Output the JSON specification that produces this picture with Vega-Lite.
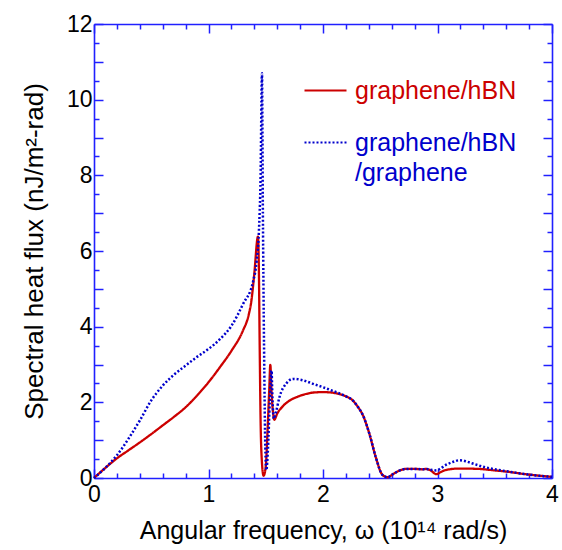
{
  "$schema": "https://vega.github.io/schema/vega-lite/v6.json",
  "width": 458,
  "height": 454,
  "autosize": "none",
  "padding": {"left": 94, "top": 24, "right": 10, "bottom": 72},
  "config": {
    "font": "Liberation Sans",
    "view": {"stroke": null},
    "axis": {
      "grid": false,
      "domainColor": "#2020ff",
      "domainWidth": 1.6,
      "tickColor": "#2020ff",
      "tickWidth": 1.5,
      "labelFont": "Liberation Sans",
      "labelFontSize": 23,
      "labelColor": "#000000",
      "titleFont": "Liberation Sans",
      "titleFontWeight": "normal",
      "titleColor": "#000000",
      "labelOverlap": false,
      "labelFlush": false
    },
    "legend": {"padding": 0}
  },
  "data": {
    "values": [
      {"x": 0, "y": 0, "s": "graphene/hBN"},
      {"x": 0.1, "y": 0.27, "s": "graphene/hBN"},
      {"x": 0.2, "y": 0.52, "s": "graphene/hBN"},
      {"x": 0.3, "y": 0.73, "s": "graphene/hBN"},
      {"x": 0.4, "y": 0.94, "s": "graphene/hBN"},
      {"x": 0.5, "y": 1.16, "s": "graphene/hBN"},
      {"x": 0.6, "y": 1.39, "s": "graphene/hBN"},
      {"x": 0.7, "y": 1.62, "s": "graphene/hBN"},
      {"x": 0.8, "y": 1.87, "s": "graphene/hBN"},
      {"x": 0.9, "y": 2.18, "s": "graphene/hBN"},
      {"x": 1.0, "y": 2.53, "s": "graphene/hBN"},
      {"x": 1.1, "y": 2.93, "s": "graphene/hBN"},
      {"x": 1.2, "y": 3.36, "s": "graphene/hBN"},
      {"x": 1.3, "y": 3.89, "s": "graphene/hBN"},
      {"x": 1.35, "y": 4.3, "s": "graphene/hBN"},
      {"x": 1.374, "y": 4.67, "s": "graphene/hBN"},
      {"x": 1.4, "y": 5.4, "s": "graphene/hBN"},
      {"x": 1.432, "y": 6.38, "s": "graphene/hBN"},
      {"x": 1.44, "y": 5.5, "s": "graphene/hBN"},
      {"x": 1.447, "y": 3.5, "s": "graphene/hBN"},
      {"x": 1.455, "y": 1.5, "s": "graphene/hBN"},
      {"x": 1.465, "y": 0.5, "s": "graphene/hBN"},
      {"x": 1.481, "y": 0.06, "s": "graphene/hBN"},
      {"x": 1.5, "y": 0.3, "s": "graphene/hBN"},
      {"x": 1.515, "y": 1.2, "s": "graphene/hBN"},
      {"x": 1.53, "y": 2.3, "s": "graphene/hBN"},
      {"x": 1.54, "y": 2.99, "s": "graphene/hBN"},
      {"x": 1.55, "y": 2.3, "s": "graphene/hBN"},
      {"x": 1.565, "y": 1.7, "s": "graphene/hBN"},
      {"x": 1.575, "y": 1.54, "s": "graphene/hBN"},
      {"x": 1.6, "y": 1.7, "s": "graphene/hBN"},
      {"x": 1.65, "y": 1.9, "s": "graphene/hBN"},
      {"x": 1.71, "y": 2.05, "s": "graphene/hBN"},
      {"x": 1.78, "y": 2.15, "s": "graphene/hBN"},
      {"x": 1.85, "y": 2.22, "s": "graphene/hBN"},
      {"x": 1.92, "y": 2.26, "s": "graphene/hBN"},
      {"x": 2.0, "y": 2.27, "s": "graphene/hBN"},
      {"x": 2.07, "y": 2.26, "s": "graphene/hBN"},
      {"x": 2.14, "y": 2.22, "s": "graphene/hBN"},
      {"x": 2.2, "y": 2.16, "s": "graphene/hBN"},
      {"x": 2.26, "y": 2.05, "s": "graphene/hBN"},
      {"x": 2.3, "y": 1.9, "s": "graphene/hBN"},
      {"x": 2.35, "y": 1.65, "s": "graphene/hBN"},
      {"x": 2.405, "y": 1.17, "s": "graphene/hBN"},
      {"x": 2.46, "y": 0.56, "s": "graphene/hBN"},
      {"x": 2.52, "y": 0.08, "s": "graphene/hBN"},
      {"x": 2.565, "y": 0.02, "s": "graphene/hBN"},
      {"x": 2.61, "y": 0.1, "s": "graphene/hBN"},
      {"x": 2.65, "y": 0.17, "s": "graphene/hBN"},
      {"x": 2.725, "y": 0.24, "s": "graphene/hBN"},
      {"x": 2.8, "y": 0.24, "s": "graphene/hBN"},
      {"x": 2.87, "y": 0.23, "s": "graphene/hBN"},
      {"x": 2.9, "y": 0.24, "s": "graphene/hBN"},
      {"x": 2.94, "y": 0.2, "s": "graphene/hBN"},
      {"x": 2.99, "y": 0.1, "s": "graphene/hBN"},
      {"x": 3.03, "y": 0.16, "s": "graphene/hBN"},
      {"x": 3.07, "y": 0.21, "s": "graphene/hBN"},
      {"x": 3.19, "y": 0.25, "s": "graphene/hBN"},
      {"x": 3.36, "y": 0.24, "s": "graphene/hBN"},
      {"x": 3.5, "y": 0.2, "s": "graphene/hBN"},
      {"x": 3.6, "y": 0.17, "s": "graphene/hBN"},
      {"x": 3.77, "y": 0.1, "s": "graphene/hBN"},
      {"x": 4.0, "y": 0.03, "s": "graphene/hBN"},

      {"x": 0, "y": 0, "s": "graphene/hBN/graphene"},
      {"x": 0.1, "y": 0.27, "s": "graphene/hBN/graphene"},
      {"x": 0.2, "y": 0.6, "s": "graphene/hBN/graphene"},
      {"x": 0.31, "y": 1.08, "s": "graphene/hBN/graphene"},
      {"x": 0.4, "y": 1.52, "s": "graphene/hBN/graphene"},
      {"x": 0.5, "y": 2.05, "s": "graphene/hBN/graphene"},
      {"x": 0.6, "y": 2.44, "s": "graphene/hBN/graphene"},
      {"x": 0.706, "y": 2.75, "s": "graphene/hBN/graphene"},
      {"x": 0.8, "y": 2.97, "s": "graphene/hBN/graphene"},
      {"x": 0.895, "y": 3.19, "s": "graphene/hBN/graphene"},
      {"x": 1.0, "y": 3.41, "s": "graphene/hBN/graphene"},
      {"x": 1.1, "y": 3.67, "s": "graphene/hBN/graphene"},
      {"x": 1.2, "y": 4.02, "s": "graphene/hBN/graphene"},
      {"x": 1.3, "y": 4.59, "s": "graphene/hBN/graphene"},
      {"x": 1.39, "y": 5.2, "s": "graphene/hBN/graphene"},
      {"x": 1.42, "y": 5.72, "s": "graphene/hBN/graphene"},
      {"x": 1.44, "y": 6.5, "s": "graphene/hBN/graphene"},
      {"x": 1.455, "y": 8.0, "s": "graphene/hBN/graphene"},
      {"x": 1.467, "y": 10.7, "s": "graphene/hBN/graphene"},
      {"x": 1.475, "y": 7.0, "s": "graphene/hBN/graphene"},
      {"x": 1.485, "y": 3.5, "s": "graphene/hBN/graphene"},
      {"x": 1.495, "y": 1.0, "s": "graphene/hBN/graphene"},
      {"x": 1.505, "y": 0.21, "s": "graphene/hBN/graphene"},
      {"x": 1.52, "y": 0.8, "s": "graphene/hBN/graphene"},
      {"x": 1.535, "y": 2.0, "s": "graphene/hBN/graphene"},
      {"x": 1.55, "y": 2.84, "s": "graphene/hBN/graphene"},
      {"x": 1.56, "y": 2.0, "s": "graphene/hBN/graphene"},
      {"x": 1.57, "y": 1.57, "s": "graphene/hBN/graphene"},
      {"x": 1.59, "y": 1.75, "s": "graphene/hBN/graphene"},
      {"x": 1.62, "y": 2.14, "s": "graphene/hBN/graphene"},
      {"x": 1.68, "y": 2.5, "s": "graphene/hBN/graphene"},
      {"x": 1.74, "y": 2.62, "s": "graphene/hBN/graphene"},
      {"x": 1.8, "y": 2.6, "s": "graphene/hBN/graphene"},
      {"x": 1.85, "y": 2.56, "s": "graphene/hBN/graphene"},
      {"x": 1.92, "y": 2.48, "s": "graphene/hBN/graphene"},
      {"x": 2.0, "y": 2.4, "s": "graphene/hBN/graphene"},
      {"x": 2.07, "y": 2.32, "s": "graphene/hBN/graphene"},
      {"x": 2.14, "y": 2.24, "s": "graphene/hBN/graphene"},
      {"x": 2.2, "y": 2.16, "s": "graphene/hBN/graphene"},
      {"x": 2.26, "y": 2.05, "s": "graphene/hBN/graphene"},
      {"x": 2.3, "y": 1.9, "s": "graphene/hBN/graphene"},
      {"x": 2.35, "y": 1.65, "s": "graphene/hBN/graphene"},
      {"x": 2.405, "y": 1.17, "s": "graphene/hBN/graphene"},
      {"x": 2.46, "y": 0.56, "s": "graphene/hBN/graphene"},
      {"x": 2.52, "y": 0.08, "s": "graphene/hBN/graphene"},
      {"x": 2.565, "y": 0.02, "s": "graphene/hBN/graphene"},
      {"x": 2.61, "y": 0.1, "s": "graphene/hBN/graphene"},
      {"x": 2.65, "y": 0.17, "s": "graphene/hBN/graphene"},
      {"x": 2.725, "y": 0.24, "s": "graphene/hBN/graphene"},
      {"x": 2.8, "y": 0.24, "s": "graphene/hBN/graphene"},
      {"x": 2.87, "y": 0.23, "s": "graphene/hBN/graphene"},
      {"x": 2.9, "y": 0.24, "s": "graphene/hBN/graphene"},
      {"x": 2.94, "y": 0.22, "s": "graphene/hBN/graphene"},
      {"x": 2.99, "y": 0.2, "s": "graphene/hBN/graphene"},
      {"x": 3.03, "y": 0.26, "s": "graphene/hBN/graphene"},
      {"x": 3.07, "y": 0.34, "s": "graphene/hBN/graphene"},
      {"x": 3.13, "y": 0.42, "s": "graphene/hBN/graphene"},
      {"x": 3.195, "y": 0.47, "s": "graphene/hBN/graphene"},
      {"x": 3.25, "y": 0.44, "s": "graphene/hBN/graphene"},
      {"x": 3.3, "y": 0.39, "s": "graphene/hBN/graphene"},
      {"x": 3.42, "y": 0.28, "s": "graphene/hBN/graphene"},
      {"x": 3.5, "y": 0.23, "s": "graphene/hBN/graphene"},
      {"x": 3.6, "y": 0.18, "s": "graphene/hBN/graphene"},
      {"x": 3.77, "y": 0.1, "s": "graphene/hBN/graphene"},
      {"x": 4.0, "y": 0.03, "s": "graphene/hBN/graphene"}
    ]
  },
  "layer": [
    {
      "transform": [{"filter": "datum.s == 'graphene/hBN'"}],
      "mark": {"type": "line", "interpolate": "monotone", "strokeWidth": 2.3},
      "encoding": {
        "x": {
          "field": "x", "type": "quantitative",
          "scale": {"domain": [0, 4], "nice": false, "zero": false},
          "axis": {
            "orient": "bottom",
            "title": "Angular frequency, ω (10¹⁴ rad/s)",
            "titleFontSize": 25,
            "values": [0,0.2,0.4,0.6,0.8,1,1.2,1.4,1.6,1.8,2,2.2,2.4,2.6,2.8,3,3.2,3.4,3.6,3.8,4],
            "labelExpr": "abs(datum.value - round(datum.value)) < 0.001 ? format(datum.value, 'd') : ''",
            "tickSize": {"condition": {"test": "abs(datum.value - round(datum.value)) < 0.001", "value": -9}, "value": -5},
            "labelPadding": 14,
            "titlePadding": 8
          }
        },
        "y": {
          "field": "y", "type": "quantitative",
          "scale": {"domain": [0, 12], "nice": false, "zero": false},
          "axis": {
            "orient": "left",
            "title": "Spectral heat flux (nJ/m²-rad)",
            "titleFontSize": 26,
            "values": [0,0.5,1,1.5,2,2.5,3,3.5,4,4.5,5,5.5,6,6.5,7,7.5,8,8.5,9,9.5,10,10.5,11,11.5,12],
            "labelExpr": "abs(datum.value/2 - round(datum.value/2)) < 0.001 ? format(datum.value, 'd') : ''",
            "tickSize": {"condition": {"test": "abs(datum.value - round(datum.value)) < 0.001", "value": -9}, "value": -5},
            "labelPadding": 11,
            "titlePadding": 19
          }
        },
        "color": {
          "field": "s", "type": "nominal",
          "scale": {"domain": ["graphene/hBN", "graphene/hBN/graphene"], "range": ["#cc0000", "#0000cc"]},
          "legend": {
            "title": null,
            "orient": "none",
            "legendX": 209,
            "legendY": 44,
            "symbolType": "stroke",
            "symbolSize": 1764,
            "symbolStrokeWidth": 2.2,
            "labelFontSize": 25,
            "labelFont": "Liberation Sans",
            "labelLimit": 400,
            "labelOffset": 7,
            "rowPadding": 16,
            "labelExpr": "datum.label == 'graphene/hBN/graphene' ? ['graphene/hBN', '/graphene'] : datum.label",
            "encode": {"labels": {"update": {"fill": {"signal": "datum.value == 'graphene/hBN' ? '#cc0000' : '#0000cc'"}, "lineHeight": {"value": 30}}}}
          }
        },
        "strokeDash": {
          "field": "s", "type": "nominal",
          "scale": {"domain": ["graphene/hBN", "graphene/hBN/graphene"], "range": [[1, 0], [2, 2]]},
          "legend": null
        }
      }
    },
    {
      "transform": [{"filter": "datum.s == 'graphene/hBN/graphene'"}],
      "mark": {"type": "line", "interpolate": "monotone", "strokeWidth": 2.5},
      "encoding": {
        "x": {
          "field": "x", "type": "quantitative",
          "axis": {
            "orient": "top",
            "title": null,
            "labels": false,
            "values": [0,0.2,0.4,0.6,0.8,1,1.2,1.4,1.6,1.8,2,2.2,2.4,2.6,2.8,3,3.2,3.4,3.6,3.8,4],
            "tickSize": {"condition": {"test": "abs(datum.value - round(datum.value)) < 0.001", "value": -9}, "value": -5}
          }
        },
        "y": {
          "field": "y", "type": "quantitative",
          "axis": {
            "orient": "right",
            "title": null,
            "labels": false,
            "values": [0,0.5,1,1.5,2,2.5,3,3.5,4,4.5,5,5.5,6,6.5,7,7.5,8,8.5,9,9.5,10,10.5,11,11.5,12],
            "tickSize": {"condition": {"test": "abs(datum.value - round(datum.value)) < 0.001", "value": -9}, "value": -5}
          }
        },
        "color": {"field": "s", "type": "nominal"},
        "strokeDash": {"field": "s", "type": "nominal"}
      }
    }
  ],
  "resolve": {"axis": {"x": "independent", "y": "independent"}}
}
